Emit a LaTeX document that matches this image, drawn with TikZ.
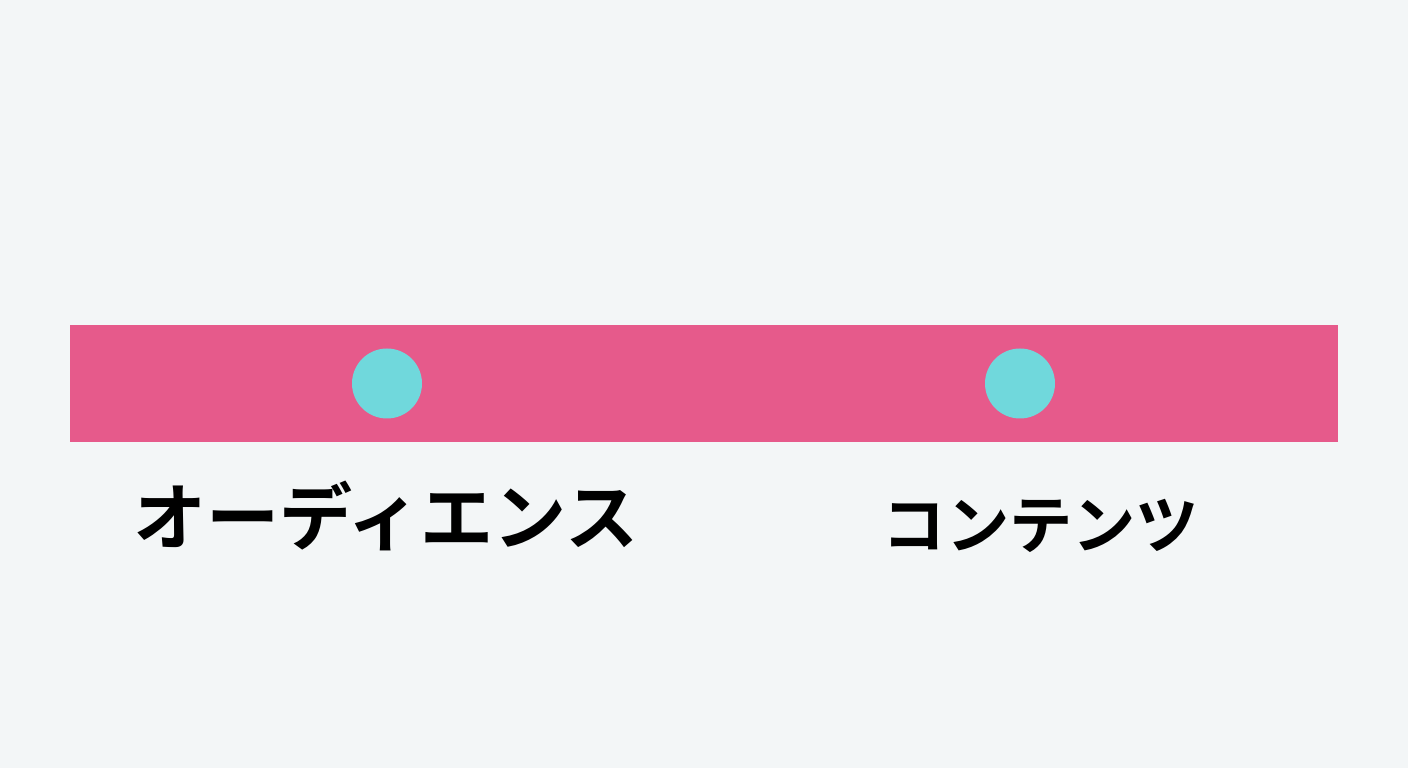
\documentclass[tikz,border=0pt]{standalone}
\usepackage{fontspec}
\newfontfamily\cjk{Noto Sans CJK JP Bold}
\definecolor{bg}{HTML}{F3F6F7}
\definecolor{barpink}{HTML}{E65A8B}
\definecolor{dotcyan}{HTML}{70D8DC}
\tikzset{
  dot/.style={circle,fill=dotcyan,draw=none,minimum size=0.70cm,inner sep=0pt},
  label/.style={font=\cjk,text=black,inner sep=0pt,anchor=center}
}
\begin{document}
\begin{tikzpicture}
\fill[bg] (0,0) rectangle (14.08,7.68);
\useasboundingbox (0,0) rectangle (14.08,7.68);
\fill[barpink] (0.70,3.26) rectangle (13.38,4.43);
\node[dot] (d1) at (3.87,3.845) {};
\node[dot] (d2) at (10.20,3.845) {};
\node[label,font=\cjk\fontsize{20.8}{24}\selectfont] (t1) at (3.86,2.52) {オーディエンス};
\node[label,font=\cjk\fontsize{18}{22}\selectfont] (t2) at (10.41,2.42) {コンテンツ};
\end{tikzpicture}
\end{document}
